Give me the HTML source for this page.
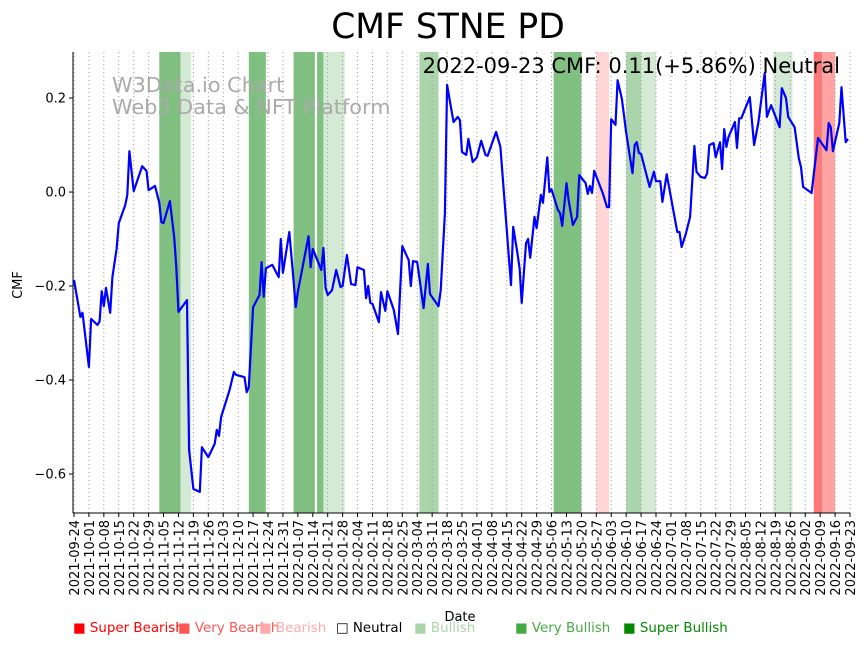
<!DOCTYPE html>
<html><head><meta charset="utf-8"><style>
body{margin:0;background:#fff;font-family:"DejaVu Sans","Liberation Sans",sans-serif;}
#wrap{position:relative;width:864px;height:646px;overflow:hidden}
.leg{position:absolute;top:621px;font-size:13.4px;white-space:nowrap}
</style></head><body>
<div id="wrap">
<svg id="chart" width="864" height="646"></svg>
<span class="leg" style="left:73px;color:#f00">■ Super Bearish</span>
<span class="leg" style="left:178px;color:#f55">■ Very Bearish</span>
<span class="leg" style="left:259px;color:#faa">■ Bearish</span>
<span class="leg" style="left:336px;color:#000">□ Neutral</span>
<span class="leg" style="left:414px;color:#aad5aa">■ Bullish</span>
<span class="leg" style="left:515px;color:#4a4">■ Very Bullish</span>
<span class="leg" style="left:623px;color:#080">■ Super Bullish</span>
</div>
<script>
const days=[0,1,3,4,7,8,11,12,13,14,15,17,18,20,21,24,25,26,28,32,34,35,38,40,41,42,45,47,48,49,53,54,56,59,60,63,66,67,68,69,73,75,76,80,81,82,84,87,88,89,90,93,96,97,98,101,103,104,105,110,111,112,116,117,118,119,121,123,125,126,128,130,132,133,136,137,138,139,140,143,144,146,147,150,152,154,157,158,159,161,164,166,167,171,172,174,175,178,180,181,182,184,185,187,189,191,193,194,198,200,205,206,208,209,210,212,213,214,216,217,219,220,222,223,224,227,228,229,231,232,234,236,237,240,241,242,243,244,248,250,251,252,254,255,257,259,262,263,264,265,266,270,272,273,275,276,278,280,283,284,285,287,289,291,292,294,296,297,298,300,301,303,304,305,306,307,310,311,312,313,317,319,321,324,325,327,331,332,334,335,338,340,341,342,346,349,353,354,355,356,359,360,362,363];
const cmf=[-0.187,-0.213,-0.266,-0.257,-0.372,-0.270,-0.283,-0.275,-0.211,-0.243,-0.204,-0.257,-0.181,-0.121,-0.066,-0.028,-0.006,0.087,0.002,0.055,0.045,0.004,0.013,-0.023,-0.064,-0.066,-0.019,-0.096,-0.160,-0.255,-0.230,-0.549,-0.632,-0.638,-0.543,-0.564,-0.536,-0.506,-0.519,-0.479,-0.421,-0.383,-0.389,-0.394,-0.426,-0.415,-0.245,-0.219,-0.149,-0.223,-0.162,-0.155,-0.181,-0.100,-0.172,-0.085,-0.189,-0.245,-0.213,-0.094,-0.160,-0.121,-0.166,-0.119,-0.204,-0.219,-0.209,-0.166,-0.202,-0.200,-0.134,-0.196,-0.198,-0.160,-0.166,-0.226,-0.200,-0.236,-0.238,-0.277,-0.213,-0.253,-0.211,-0.251,-0.302,-0.115,-0.145,-0.200,-0.147,-0.149,-0.247,-0.153,-0.217,-0.243,-0.209,-0.045,0.228,0.149,0.160,0.153,0.085,0.079,0.113,0.064,0.074,0.109,0.079,0.077,0.128,0.096,-0.198,-0.074,-0.130,-0.162,-0.236,-0.109,-0.100,-0.140,-0.053,-0.077,-0.006,-0.023,0.074,0.000,0.006,-0.038,-0.045,-0.072,0.019,-0.017,-0.070,-0.053,0.036,0.019,-0.004,0.013,-0.002,0.045,-0.002,-0.032,-0.032,0.155,0.143,0.238,0.198,0.126,0.040,0.100,0.106,0.083,0.081,0.011,0.043,0.023,0.023,-0.021,0.038,-0.011,-0.085,-0.085,-0.117,-0.089,-0.053,0.098,0.043,0.032,0.030,0.040,0.100,0.104,0.074,0.106,0.049,0.134,0.096,0.117,0.149,0.094,0.157,0.157,0.202,0.100,0.147,0.253,0.160,0.185,0.138,0.221,0.200,0.160,0.138,0.072,0.053,0.011,-0.002,0.115,0.089,0.147,0.138,0.087,0.147,0.223,0.106,0.113];
const bandStart=[40,50,82,103,114,117,162,225,245,259,266,328,347,351];
const bandEnd=[50,55,90,113,117,127,171,238,251,266,273,337,351,357];
const bandType=['vbull','bull','vbull','vbull','vbull','bull','mbull','vbull','bear','mbull','bull','bull','vbear','bear2'];
const yTicks=[0.2,0.0,-0.2,-0.4,-0.6];
const startDate=new Date(Date.UTC(2021,8,24));
const colors={vbull:'#80c080',mbull:'#aad5aa',bull:'#d4ead4',bear:'#ffd5d5',vbear:'#f77',bear2:'#ffa3a3'};
const L=73,R=850,T=52,B=513,D0=0,D1=364,Ymax=0.298,Ymin=-0.683;
const xs=d=>L+1+(d-D0)/(D1-D0)*(R-L-1);
const ys=v=>T+(Ymax-v)/(Ymax-Ymin)*(B-T);
const svg=document.getElementById('chart');const NS='http://www.w3.org/2000/svg';
const FF='DejaVu Sans, Liberation Sans, sans-serif';
function mk(t,a,p){const e=document.createElementNS(NS,t);for(const k in a)e.setAttribute(k,a[k]);(p||svg).appendChild(e);return e;}
for(let i=0;i<bandStart.length;i++){
 const r=mk('rect',{x:xs(bandStart[i]),y:T,width:xs(bandEnd[i])-xs(bandStart[i]),height:B-T,fill:colors[bandType[i]]});
 
 
}
for(let w=0;w<=52;w++){
 const d=w*7,x=xs(d);
 const g=mk('line',{x1:x,x2:x,y1:T,y2:B,stroke:'#999','stroke-width':0.9,'stroke-dasharray':'1.2,2.8'});
 
 
 mk('line',{x1:x,x2:x,y1:B,y2:B+4,stroke:'#000'});
 const dt=new Date(startDate.getTime()+d*86400000);
 const s=dt.toISOString().slice(0,10);
 const t=mk('text',{x:0,y:0,transform:`translate(${x+5},${B+7}) rotate(-90)`,'text-anchor':'end','font-size':13,'font-family':FF});
 t.textContent=s;
 
 
}
yTicks.forEach(v=>{
 const y=ys(v);mk('line',{x1:L-4,x2:L,y1:y,y2:y,stroke:'#000'});
 const t=mk('text',{x:L-7,y:y+4.5,'text-anchor':'end','font-size':13,'font-family':FF});
 t.textContent=(v<0?'\u2212':'')+Math.abs(v).toFixed(1);
 
 
});
mk('line',{x1:L,x2:L,y1:T,y2:B,stroke:'#000','stroke-width':1});
mk('line',{x1:L,x2:R,y1:B,y2:B,stroke:'#000','stroke-width':1});
const wm=mk('text',{x:112,y:92,'font-size':20.8,fill:'#aaa','font-family':FF});wm.textContent='W3Data.io Chart';


const wm2=mk('text',{x:112,y:114,'font-size':20.8,fill:'#aaa','font-family':FF});wm2.textContent='Web3 Data & NFT Platform';


const pts=days.map((d,i)=>xs(d).toFixed(1)+','+ys(cmf[i]).toFixed(1)).join(' ');
const ln=mk('polyline',{points:pts,fill:'none',stroke:'#00f','stroke-width':2.2,'stroke-linejoin':'round'});


const an=mk('text',{x:840,y:73,'text-anchor':'end','font-size':21,'font-family':FF});an.textContent='2022-09-23 CMF: 0.11(+5.86%) Neutral';


const ti=mk('text',{x:448,y:38,'text-anchor':'middle','font-size':34.5,'font-family':FF});ti.textContent='CMF STNE PD';


const yl=mk('text',{x:0,y:0,transform:'translate(22,285) rotate(-90)','text-anchor':'middle','font-size':13,'font-family':FF});yl.textContent='CMF';


const xl=mk('text',{x:460,y:621,'text-anchor':'middle','font-size':13,'font-family':FF});xl.textContent='Date';


</script>
</body></html>
